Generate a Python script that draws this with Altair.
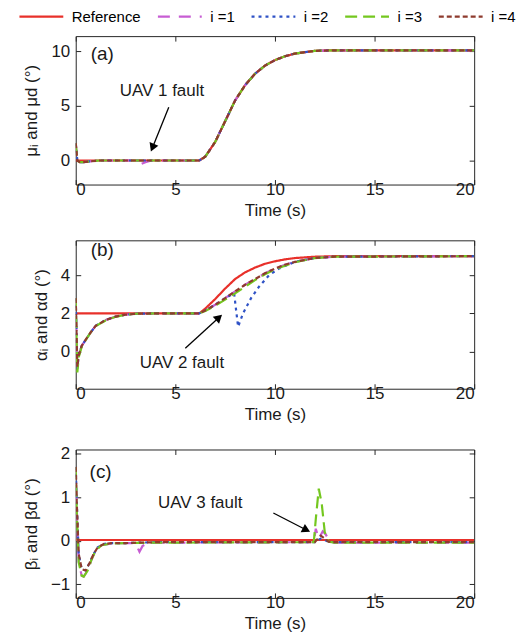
import altair as alt
import pandas as pd

FONT = "Liberation Sans"

SERIES = ["Reference", "i =1", "i =2", "i =3", "i =4"]
COLORS = ["#E8302A", "#C75DD3", "#2F52C6", "#74C71F", "#8E3B2E"]
DASHES = [[1, 0], [12, 9], [3, 4], [12, 6], [5, 3]]

X_TICKS = [0, 5, 10, 15, 20]

# ---------------- panel (a) ----------------
A_REF_T = [0, 6.2, 6.5, 7.0, 7.5, 8.0, 8.5, 9.0, 9.5, 10.0, 10.5, 11.0, 12.0, 13.0, 20.0]
A_REF_V = [0, 0, 0.35, 1.7, 3.6, 5.5, 6.9, 7.95, 8.7, 9.2, 9.55, 9.8, 10.05, 10.1, 10.1]
A_AG_T = [0, 0.08, 0.2, 0.4, 0.7, 1.2, 2.0, 6.2, 6.5, 7.0, 7.5, 8.0, 8.5, 9.0, 9.5, 10.0, 10.5, 11.0, 12.0, 13.0, 20.0]
A_AG_V = [1.6, 0.0, -0.15, -0.15, -0.08, 0.0, 0.0, 0.0, 0.35, 1.7, 3.6, 5.5, 6.9, 7.95, 8.7, 9.2, 9.55, 9.8, 10.05, 10.1, 10.1]
A_1_T = [0, 0.08, 0.2, 0.4, 0.7, 1.2, 2.0, 3.1, 3.3, 3.5, 3.8, 6.2, 6.5, 7.0, 7.5, 8.0, 8.5, 9.0, 9.5, 10.0, 10.5, 11.0, 12.0, 13.0, 20.0]
A_1_V = [1.6, 0.0, -0.15, -0.15, -0.08, 0.0, 0.0, 0.0, -0.3, -0.15, 0.0, 0.0, 0.35, 1.7, 3.6, 5.5, 6.9, 7.95, 8.7, 9.2, 9.55, 9.8, 10.05, 10.1, 10.1]

# ---------------- panel (b) ----------------
B_REF_T = [0, 6.2, 6.5, 7.0, 7.5, 8.0, 8.5, 9.0, 9.5, 10.0, 10.5, 11.0, 12.0, 13.0, 20.0]
B_REF_V = [2.0, 2.0, 2.25, 2.75, 3.3, 3.8, 4.15, 4.4, 4.6, 4.73, 4.83, 4.9, 4.97, 5.0, 5.0]
B_AG_T = [0, 0.08, 0.15, 0.3, 0.5, 0.75, 1.0, 1.5, 2.0, 2.5, 3.0, 4.0, 6.2, 6.5, 7.0, 7.5, 8.0, 8.5, 9.0, 9.5, 10.0, 10.5, 11.0, 12.0, 13.0, 20.0]
B_4_V = [2.8, -0.8, -0.2, 0.3, 0.62, 1.0, 1.35, 1.65, 1.83, 1.93, 1.98, 2.0, 2.0, 2.15, 2.45, 2.8, 3.15, 3.5, 3.8, 4.1, 4.35, 4.55, 4.7, 4.9, 4.97, 5.0]
B_3_V = [2.8, -1.1, -0.3, 0.25, 0.6, 1.0, 1.33, 1.63, 1.82, 1.93, 1.98, 2.0, 2.0, 2.12, 2.4, 2.72, 3.05, 3.4, 3.75, 4.05, 4.3, 4.5, 4.68, 4.9, 4.97, 5.0]
B_2_T = [0, 0.08, 0.15, 0.3, 0.5, 0.75, 1.0, 1.5, 2.0, 2.5, 3.0, 4.0, 6.2, 6.5, 7.0, 7.5, 7.95, 8.15, 8.4, 8.8, 9.2, 9.7, 10.2, 11.0, 12.0, 13.0, 20.0]
B_2_V = [2.8, -0.9, -0.2, 0.3, 0.62, 1.0, 1.35, 1.65, 1.83, 1.93, 1.98, 2.0, 2.0, 2.15, 2.45, 2.8, 3.05, 1.3, 2.0, 2.8, 3.4, 4.0, 4.35, 4.7, 4.9, 4.97, 5.0]

# ---------------- panel (c) ----------------
C_REF_T = [0, 20]
C_REF_V = [0.02, 0.02]
C_4_T = [0, 0.05, 0.15, 0.3, 0.5, 0.7, 0.9, 1.1, 1.4, 1.8, 2.5, 4.0, 12.0, 12.15, 12.3, 12.5, 12.7, 13.0, 20.0]
C_4_V = [1.7, 0.9, -0.3, -0.65, -0.68, -0.5, -0.3, -0.15, -0.07, -0.05, -0.05, -0.03, -0.03, 0.05, 0.12, 0.05, -0.02, -0.03, -0.03]
C_2_V = [1.7, 0.9, -0.3, -0.65, -0.68, -0.5, -0.3, -0.15, -0.07, -0.05, -0.05, -0.03, -0.03, 0.02, 0.05, 0.02, -0.02, -0.03, -0.03]
C_3_T = [0, 0.05, 0.15, 0.3, 0.4, 0.6, 0.8, 1.0, 1.3, 1.8, 2.5, 4.0, 11.95, 12.05, 12.2, 12.35, 12.5, 12.7, 13.0, 20.0]
C_3_V = [1.7, 0.7, -0.5, -0.8, -0.82, -0.68, -0.42, -0.22, -0.1, -0.06, -0.05, -0.04, -0.03, 0.5, 1.2, 0.85, 0.2, -0.02, -0.04, -0.04]
C_1_T = [0, 0.05, 0.15, 0.3, 0.4, 0.6, 0.8, 1.0, 1.3, 1.8, 2.5, 3.0, 3.2, 3.35, 3.6, 4.0, 11.95, 12.05, 12.2, 12.4, 12.55, 12.75, 13.0, 20.0]
C_1_V = [1.7, 0.7, -0.5, -0.8, -0.82, -0.68, -0.42, -0.22, -0.1, -0.06, -0.05, -0.05, -0.25, -0.12, -0.05, -0.04, -0.03, 0.28, 0.05, 0.22, 0.15, -0.02, -0.04, -0.04]

# annotations: panel tag, text, arrow start and arrow-head centre (data units), head angle
ANN = {
    "a": dict(tag="(a)", tag_xy=(1.33, 9.76), text="UAV 1 fault", text_xy=(4.33, 6.4),
              start=(4.67, 4.88), head=(3.85, 1.18), angle=202),
    "b": dict(tag="(b)", tag_xy=(1.33, 5.3), text="UAV 2 fault", text_xy=(5.33, -0.61),
              start=(5.5, 0.17), head=(7.19, 1.78), angle=48),
    "c": dict(tag="(c)", tag_xy=(1.25, 1.59), text="UAV 3 fault", text_xy=(6.25, 0.88),
              start=(9.92, 0.64), head=(11.58, 0.25), angle=117),
}


def series_df(pairs):
    rows = []
    for name, ts, vs in pairs:
        for t, v in zip(ts, vs):
            rows.append({"s": name, "t": t, "v": v})
    return pd.DataFrame(rows)


cscale = alt.Scale(domain=SERIES, range=COLORS)
dscale = alt.Scale(domain=SERIES, range=DASHES)
legend = alt.Legend(orient="none", legendX=-42, legendY=-27, direction="horizontal", title=None,
                    symbolType="M-4.4,0H4.4", symbolSize=100, symbolStrokeWidth=2.2, labelFont=FONT,
                    labelFontSize=15, labelOffset=23, columnPadding=12, gridAlign="none", padding=0)


def panel(df, ydom, yvals, ytitle, ann):
    xsc = alt.Scale(domain=[0, 20], nice=False, zero=False)
    ysc = alt.Scale(domain=ydom, nice=False, zero=False)
    lines = alt.Chart(df).mark_line(strokeWidth=2.2, clip=True).encode(
        x=alt.X("t:Q", scale=xsc, axis=alt.Axis(orient="bottom", values=X_TICKS, title="Time (s)",
                                                  offset=-5, tickSize=5, domain=False, grid=False,
                                                  labelPadding=-3, titlePadding=5, format="d")),
        y=alt.Y("v:Q", scale=ysc, axis=alt.Axis(orient="left", values=yvals, title=ytitle,
                                                  offset=-5, tickSize=5, domain=False, grid=False,
                                                  labelPadding=6, titlePadding=10)),
        color=alt.Color("s:N", scale=cscale, legend=legend),
        strokeDash=alt.StrokeDash("s:N", scale=dscale, legend=legend),
    )
    frame = alt.Chart(df).mark_point(opacity=0).encode(
        x=alt.X("t:Q", scale=xsc, axis=alt.Axis(orient="top", values=X_TICKS, labels=False, title=None,
                                                  offset=-5, tickSize=5, domain=False, grid=False)),
        y=alt.Y("v:Q", scale=ysc, axis=alt.Axis(orient="right", values=yvals, labels=False, title=None,
                                                  offset=-5, tickSize=5, domain=False, grid=False)),
    )
    tdf = pd.DataFrame({"t": [ann["tag_xy"][0], ann["text_xy"][0]],
                        "v": [ann["tag_xy"][1], ann["text_xy"][1]],
                        "txt": [ann["tag"], ann["text"]],
                        "fs": [19, 17]})
    texts = alt.Chart(tdf).mark_text(font=FONT, color="#1a1a1a", align="center", baseline="middle").encode(
        x=alt.X("t:Q", scale=xsc, axis=None),
        y=alt.Y("v:Q", scale=ysc, axis=None),
        text="txt:N",
        size=alt.Size("fs:Q", scale=None, legend=None),
    )
    adf = pd.DataFrame({"t": [ann["start"][0]], "v": [ann["start"][1]],
                        "t2": [ann["head"][0]], "v2": [ann["head"][1]]})
    rule = alt.Chart(adf).mark_rule(color="black", strokeWidth=1.3).encode(
        x=alt.X("t:Q", scale=xsc, axis=None), y=alt.Y("v:Q", scale=ysc, axis=None),
        x2="t2:Q", y2="v2:Q",
    )
    head = alt.Chart(adf).mark_point(shape="triangle-up", filled=True, size=90, angle=ann["angle"],
                                     color="black", opacity=1).encode(
        x=alt.X("t2:Q", scale=xsc, axis=None), y=alt.Y("v2:Q", scale=ysc, axis=None),
    )
    return alt.layer(lines, frame, texts, rule, head).resolve_axis(x="independent", y="independent").properties(
        width=400, height=149)


df_a = series_df([("Reference", A_REF_T, A_REF_V), ("i =1", A_1_T, A_1_V), ("i =2", A_AG_T, A_AG_V),
                  ("i =3", A_AG_T, A_AG_V), ("i =4", A_AG_T, A_AG_V)])
df_b = series_df([("Reference", B_REF_T, B_REF_V), ("i =1", B_AG_T, B_4_V), ("i =2", B_2_T, B_2_V),
                  ("i =3", B_AG_T, B_3_V), ("i =4", B_AG_T, B_4_V)])
df_c = series_df([("Reference", C_REF_T, C_REF_V), ("i =1", C_1_T, C_1_V), ("i =2", C_4_T, C_2_V),
                  ("i =3", C_3_T, C_3_V), ("i =4", C_4_T, C_4_V)])

pa = panel(df_a, [-2.2, 11.4], [0, 5, 10], "μᵢ and μd (°)", ANN["a"])
pb = panel(df_b, [-1.95, 5.83], [0, 2, 4], "αᵢ and αd (°)", ANN["b"])
pc = panel(df_c, [-1.31, 2.1], [-1, 0, 1, 2], "βᵢ and βd (°)", ANN["c"])

chart = alt.vconcat(pa, pb, pc, spacing=20).resolve_scale(
    color="shared", strokeDash="shared").resolve_legend(color="shared", strokeDash="shared").properties(
    padding={"left": 14, "top": 0, "right": 0, "bottom": 0}).configure_view(
    stroke="#262626", strokeWidth=1).configure_axis(
    labelFont=FONT, titleFont=FONT, labelFontSize=17, titleFontSize=17, titleFontWeight="normal",
    tickColor="#262626", labelColor="#1a1a1a", titleColor="#1a1a1a", tickWidth=1)

chart.save("out.html", embed_options={"renderer": "svg", "actions": False})
